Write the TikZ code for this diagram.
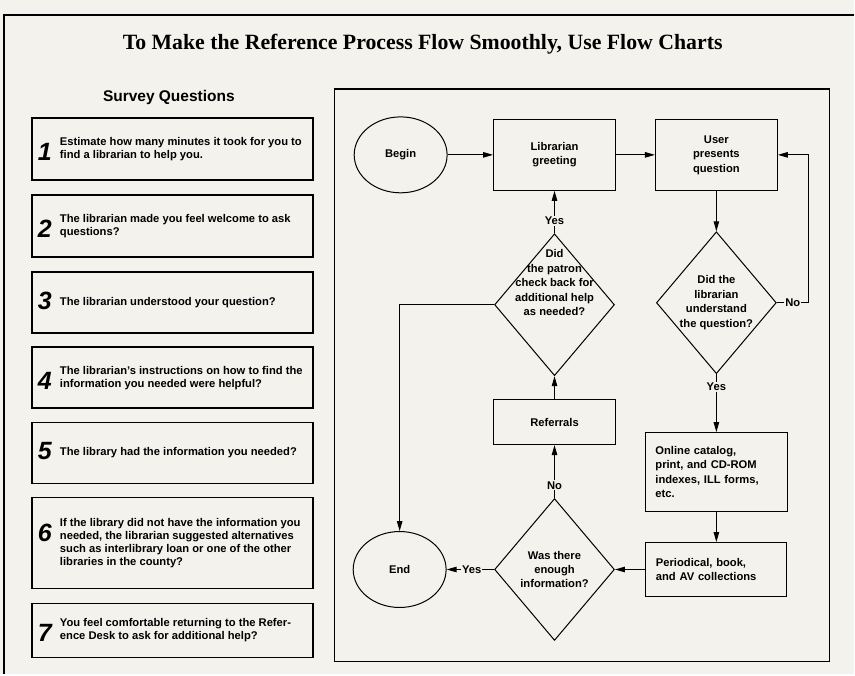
\documentclass[tikz,border=0pt]{standalone}
\usepackage{fontspec}
\setmainfont{Liberation Sans}
\newfontfamily\titlefont{Liberation Serif}
\usetikzlibrary{shapes.geometric, arrows.meta}
\definecolor{paper}{RGB}{244,242,236}
\newcommand\bodyfont{\fontsize{11.2bp}{13bp}\selectfont\bfseries}
\newcommand\flowfont{\fontsize{11.2bp}{14.5bp}\selectfont\bfseries}
\newcommand\qnum[2][15bp]{\makebox[22bp][l]{\smash{\raisebox{-#1}{\fontsize{25bp}{25bp}\selectfont\bfseries\itshape #2}}}}

\begin{document}
\begin{tikzpicture}[x=1bp, y=1bp, node distance=75.5bp,
  qbox/.style={draw, line width=1.6bp, minimum width=281bp, inner sep=0pt, font=\bodyfont},
  proc/.style={rectangle, draw, line width=1bp, minimum width=122bp, minimum height=71bp, align=center, font=\flowfont},
  term/.style={ellipse, draw, line width=1bp, minimum width=93bp, minimum height=76bp, font=\flowfont},
  decide/.style={diamond, draw, line width=1bp, minimum width=120bp, minimum height=142bp, inner sep=0pt},
  dtext/.style={align=center, font=\flowfont},
  flow/.style={line width=1bp, -{Triangle[length=10bp, width=5.5bp]}},
  lbl/.style={fill=paper, inner sep=1bp, font=\flowfont}]

  \fill[paper] (0,0) rectangle (855,675);
  \draw[line width=1.5bp] (855,660) -- (4,660) -- (4,0);

  \node[font=\titlefont\fontsize{21.8bp}{24bp}\selectfont\bfseries] (title) at (423,631)
    {To Make the Reference Process Flow Smoothly, Use Flow Charts};
  \node[font=\fontsize{15.5bp}{18bp}\selectfont\bfseries] (survey) at (169,577) {Survey Questions};

  % survey questions
  \node[qbox, minimum height=62bp] (q1) at (172.5,526)
    {\qnum{1}\parbox[t]{247bp}{\raggedright Estimate how many minutes it took for you to\\find a librarian to help you.}};
  \node[qbox, minimum height=62bp, below of=q1, node distance=77bp] (q2)
    {\qnum{2}\parbox[t]{247bp}{\raggedright The librarian made you feel welcome to ask\\questions?}};
  \node[qbox, minimum height=61bp, below of=q2, node distance=76.5bp] (q3)
    {\qnum[4bp]{3}\parbox[t]{247bp}{\raggedright The librarian understood your question?}};
  \node[qbox, minimum height=61bp, below of=q3] (q4)
    {\qnum{4}\parbox[t]{247bp}{\raggedright The librarian's instructions on how to find the\\information you needed were helpful?}};
  \node[qbox, minimum height=61bp, below of=q4] (q5)
    {\qnum[4bp]{5}\parbox[t]{247bp}{\raggedright The library had the information you needed?}};
  \node[qbox, minimum height=91bp, below of=q5, node distance=90bp] (q6)
    {\qnum{6}\parbox[t]{247bp}{\raggedright If the library did not have the information you\\needed, the librarian suggested alternatives\\such as interlibrary loan or one of the other\\libraries in the county?}};
  \node[qbox, minimum height=54bp, below of=q6, node distance=87.5bp] (q7)
    {\qnum{7}\parbox[t]{247bp}{\raggedright You feel comfortable returning to the Refer-\\ence Desk to ask for additional help?}};

  % flow chart
  \draw[line width=1.3bp] (335,586) rectangle (830,13);
  \node[term] (begin) at (401,520) {Begin};
  \node[proc, right of=begin, node distance=154bp] (greet) {Librarian\\greeting};
  \node[proc, right of=greet, node distance=162bp] (present) {User\\presents\\question};
  \node[decide, below of=present, node distance=148bp] (understood) {};
  \node[dtext] (understoodtext) at (understood) {Did the\\librarian\\understand\\the question?};
  \node[proc, below of=understood, node distance=169.5bp, minimum width=142bp, minimum height=79bp,
    text width=122bp, align=left] (catalog) {Online catalog,\\print, and CD-ROM\\indexes, ILL forms,\\etc.};
  \node[proc, below of=catalog, node distance=97.5bp, minimum width=141bp, minimum height=54bp,
    text width=121bp, align=left] (collect) {Periodical, book,\\and AV collections};
  \node[decide, left of=collect, node distance=162bp] (enough) {};
  \node[dtext] (enoughtext) at (enough) {Was there\\enough\\information?};
  \node[term, left of=enough, node distance=155bp] (end) {End};
  \node[proc, above of=enough, node distance=147.5bp, minimum height=45bp] (refer) {Referrals};
  \node[decide, above of=refer, node distance=117.5bp] (checkback) {};
  \node[dtext, yshift=22bp] (checkbacktext) at (checkback) {Did\\the patron\\check back for\\additional help\\as needed?};

  \draw[flow] (begin) -- (greet);
  \draw[flow] (greet) -- (present);
  \draw[flow] (present) -- (understood);
  \draw[flow] (understood) -- node[lbl, pos=0.22] (yes1) {Yes} (catalog);
  \draw[flow] (understood.east) -- node[lbl] (no1) {No} ++(32bp,0) |- (present.east);
  \draw[flow] (catalog) -- (collect);
  \draw[flow] (collect) -- (enough);
  \draw[flow] (enough) -- node[lbl, pos=0.47] (yes2) {Yes} (end);
  \draw[flow] (enough) -- node[lbl, pos=0.24] (no2) {No} (refer);
  \draw[flow] (refer) -- (checkback);
  \draw[flow] (checkback) -- node[lbl, pos=0.29] (yes3) {Yes} (greet);
  \draw[flow] (checkback.west) -| (end);
\end{tikzpicture}
\end{document}
